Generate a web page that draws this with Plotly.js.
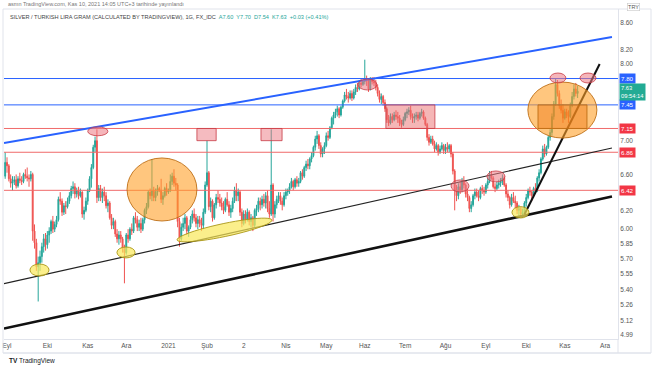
<!DOCTYPE html>
<html><head><meta charset="utf-8">
<script src="https://cdn.plot.ly/plotly-3.0.1.min.js"></script>
<style>html,body{margin:0;padding:0;background:#fff;}#chart{width:654px;height:366px;}</style>
</head><body><div id="chart"></div>
<script>
// ---- data (daily candles, SILVER/TRY gram) ----
const firstDay = '2020-08-31';
const openP = [
6.58,6.74,6.70,6.55,6.50,6.52,6.54,6.47,6.55,6.53,6.52,6.60,6.58,6.56,6.55,6.60,5.98,5.86,5.62,5.66,5.72,5.82,5.90,
5.84,5.94,5.98,6.08,6.00,6.05,6.10,6.32,6.30,6.18,6.25,6.24,6.30,6.36,6.44,6.46,6.38,6.42,6.36,6.40,6.16,6.20,
6.30,6.42,6.55,6.68,6.92,7.00,6.34,6.44,6.34,6.40,6.36,6.25,6.28,6.12,6.04,6.08,5.95,5.90,5.94,5.90,5.80,
5.76,5.94,5.90,6.00,5.98,6.12,6.10,6.02,6.06,6.00,6.10,6.20,6.24,6.40,6.36,6.42,6.34,6.40,6.44,6.42,6.32,6.36,6.44,
6.40,6.42,6.52,6.58,6.50,6.48,6.08,5.90,6.02,6.06,6.12,5.98,6.02,6.10,6.16,6.12,6.06,6.10,6.06,6.04,6.18,
6.48,6.62,6.24,6.30,6.12,6.26,6.34,6.32,6.28,6.24,6.20,6.32,6.26,6.18,6.22,6.30,6.42,6.36,6.40,6.18,
6.06,6.16,6.10,6.18,6.08,6.12,6.04,6.20,6.22,6.30,6.26,6.32,6.28,6.36,6.22,6.16,6.48,6.16,6.26,6.32,6.36,6.30,6.26,
6.36,6.40,6.42,6.46,6.52,6.46,6.54,6.50,6.52,6.62,6.58,6.68,6.72,6.70,6.78,6.82,6.92,7.02,7.06,6.94,6.84,6.90,
6.94,7.06,7.04,7.16,7.28,7.32,7.36,7.40,7.32,7.42,7.50,7.58,7.56,7.54,7.60,7.54,7.62,7.68,7.66,7.74,7.72,
7.76,7.80,7.78,7.66,7.78,7.76,7.74,7.68,7.60,7.52,7.56,7.48,7.40,7.26,7.22,7.30,7.26,7.32,7.30,7.28,7.22,7.20,
7.26,7.34,7.36,7.38,7.30,7.28,7.30,7.32,7.28,7.34,7.36,7.28,7.20,7.04,6.98,7.02,6.96,6.90,6.94,6.86,6.90,6.94,
6.88,6.92,6.90,6.94,6.84,6.64,6.42,6.36,6.46,6.42,6.52,6.48,6.38,6.34,6.22,6.26,6.36,6.40,6.36,6.34,6.44,6.42,
6.40,6.48,6.52,6.60,6.56,6.46,6.44,6.48,6.50,6.52,6.56,6.48,6.38,6.34,6.26,6.34,6.30,6.28,6.20,6.22,6.16,6.18,
6.28,6.34,6.42,6.40,6.36,6.44,6.42,6.56,6.62,6.78,6.90,6.84,6.92,7.04,7.10,7.30,7.46,7.72,7.60,7.44,7.38,
7.28,7.36,7.32,7.30,7.44,7.56,7.66,7.60];
const highP = [
6.86,6.80,6.72,6.60,6.58,6.58,6.60,6.58,6.62,6.58,6.62,6.66,6.68,6.60,6.64,6.62,6.05,5.90,5.72,5.78,5.86,5.95,5.96,
5.98,6.02,6.10,6.14,6.08,6.14,6.35,6.40,6.33,6.28,6.30,6.34,6.40,6.47,6.52,6.50,6.45,6.46,6.44,6.41,6.24,6.34,
6.44,6.58,6.72,6.95,7.05,7.14,6.48,6.48,6.44,6.46,6.40,6.32,6.30,6.16,6.12,6.10,6.00,5.98,5.98,5.92,5.84,
5.96,6.00,6.02,6.06,6.14,6.18,6.14,6.10,6.12,6.12,6.22,6.28,6.42,6.44,6.78,6.46,6.44,6.48,6.46,6.55,6.40,6.46,6.50,
6.44,6.60,6.62,6.66,6.56,6.50,6.12,6.06,6.12,6.16,6.14,6.04,6.14,6.20,6.22,6.16,6.14,6.14,6.12,6.22,6.52,
7.00,6.64,6.34,6.32,6.28,6.38,6.42,6.38,6.34,6.30,6.34,6.40,6.30,6.26,6.34,6.46,6.50,6.44,6.42,6.22,
6.20,6.20,6.22,6.20,6.16,6.14,6.22,6.26,6.34,6.34,6.36,6.38,6.40,6.42,6.30,7.14,6.50,6.30,6.36,6.40,6.40,6.34,6.40,
6.44,6.44,6.50,6.56,6.54,6.56,6.58,6.56,6.64,6.66,6.70,6.76,6.78,6.80,6.86,6.94,7.06,7.12,7.08,6.98,6.92,6.98,
7.10,7.12,7.18,7.30,7.36,7.40,7.44,7.42,7.44,7.52,7.62,7.66,7.62,7.64,7.64,7.66,7.72,7.74,7.78,7.80,7.78,
8.06,7.84,7.80,7.82,7.82,7.82,7.78,7.72,7.64,7.60,7.58,7.52,7.42,7.32,7.34,7.34,7.36,7.38,7.36,7.32,7.26,7.30,
7.36,7.40,7.42,7.44,7.34,7.34,7.36,7.36,7.36,7.40,7.38,7.30,7.22,7.08,7.06,7.06,7.00,6.98,6.96,6.94,6.98,6.96,
6.96,6.98,6.96,6.96,6.86,6.66,6.48,6.50,6.52,6.56,6.58,6.50,6.44,6.36,6.30,6.38,6.44,6.44,6.42,6.46,6.48,6.46,
6.50,6.56,6.64,6.64,6.58,6.50,6.52,6.54,6.56,6.60,6.58,6.50,6.42,6.36,6.38,6.40,6.36,6.30,6.26,6.24,6.22,6.30,
6.38,6.44,6.46,6.42,6.46,6.50,6.58,6.66,6.80,6.94,6.96,6.94,7.06,7.14,7.34,7.50,7.80,7.78,7.64,7.52,7.46,
7.40,7.40,7.38,7.48,7.62,7.72,7.74,7.70];
const lowP = [
6.55,6.62,6.52,6.45,6.42,6.48,6.44,6.45,6.50,6.48,6.50,6.55,6.52,6.46,6.52,5.88,5.80,5.58,5.29,5.58,5.66,5.76,5.78,
5.80,5.86,5.95,5.96,5.97,6.02,6.08,6.26,6.14,6.15,6.16,6.22,6.27,6.33,6.38,6.33,6.34,6.32,6.34,6.12,6.10,6.18,
6.26,6.40,6.45,6.66,6.86,6.28,6.30,6.30,6.28,6.30,6.22,6.18,6.10,6.00,6.00,5.92,5.86,5.84,5.86,5.76,5.46,
5.74,5.86,5.88,5.94,5.96,6.06,5.98,5.98,5.96,5.98,6.06,6.16,6.22,6.32,6.30,6.30,6.30,6.36,6.40,6.28,6.26,6.34,6.36,
6.38,6.40,6.48,6.46,6.42,6.02,5.82,5.88,5.98,6.00,5.94,5.92,6.00,6.06,6.08,6.02,6.00,6.02,5.98,6.00,6.16,
6.46,6.20,6.18,6.08,6.10,6.22,6.28,6.24,6.20,6.16,6.18,6.24,6.14,6.12,6.18,6.28,6.30,6.30,6.14,6.02,
6.04,6.06,6.08,6.04,6.02,5.98,6.02,6.14,6.18,6.20,6.22,6.24,6.22,6.18,6.12,6.14,6.08,6.12,6.22,6.28,6.26,6.20,6.24,
6.32,6.36,6.38,6.44,6.42,6.44,6.46,6.46,6.50,6.54,6.56,6.64,6.66,6.66,6.74,6.80,6.88,6.96,6.90,6.80,6.80,6.84,
6.92,7.00,7.02,7.14,7.20,7.28,7.30,7.28,7.30,7.40,7.48,7.52,7.48,7.52,7.50,7.52,7.58,7.62,7.64,7.68,7.70,
7.72,7.70,7.62,7.64,7.72,7.70,7.64,7.56,7.48,7.46,7.44,7.36,7.22,7.18,7.20,7.22,7.24,7.26,7.22,7.18,7.16,7.18,
7.24,7.28,7.32,7.26,7.22,7.22,7.26,7.24,7.26,7.30,7.26,7.18,7.00,6.94,6.96,6.94,6.86,6.88,6.82,6.84,6.88,6.84,
6.84,6.86,6.86,6.80,6.60,6.20,6.30,6.32,6.38,6.40,6.44,6.34,6.30,6.18,6.18,6.24,6.32,6.34,6.30,6.32,6.38,6.36,
6.38,6.44,6.50,6.54,6.44,6.40,6.42,6.44,6.46,6.48,6.46,6.34,6.30,6.22,6.24,6.28,6.22,6.16,6.14,6.12,6.12,6.16,
6.24,6.32,6.36,6.30,6.34,6.38,6.40,6.52,6.60,6.76,6.80,6.82,6.90,7.00,7.06,7.26,7.44,7.56,7.40,7.34,7.22,
7.26,7.28,7.22,7.28,7.42,7.52,7.56,7.54];
const closeP = [
6.74,6.70,6.55,6.50,6.52,6.54,6.47,6.55,6.53,6.52,6.60,6.58,6.56,6.55,6.60,5.98,5.86,5.62,5.66,5.72,5.82,5.90,5.84,
5.94,5.98,6.08,6.00,6.05,6.10,6.32,6.30,6.18,6.25,6.24,6.30,6.36,6.44,6.46,6.38,6.42,6.36,6.40,6.16,6.20,6.30,
6.42,6.55,6.68,6.92,7.00,6.34,6.44,6.34,6.40,6.36,6.25,6.28,6.12,6.04,6.08,5.95,5.90,5.94,5.90,5.80,5.76,
5.94,5.90,6.00,5.98,6.12,6.10,6.02,6.06,6.00,6.10,6.20,6.24,6.40,6.36,6.42,6.34,6.40,6.44,6.42,6.32,6.36,6.44,6.40,
6.42,6.52,6.58,6.50,6.48,6.08,5.90,6.02,6.06,6.12,5.98,6.02,6.10,6.16,6.12,6.06,6.10,6.06,6.04,6.18,6.48,
6.62,6.24,6.30,6.12,6.26,6.34,6.32,6.28,6.24,6.20,6.32,6.26,6.18,6.22,6.30,6.42,6.36,6.40,6.18,6.06,
6.16,6.10,6.18,6.08,6.12,6.04,6.20,6.22,6.30,6.26,6.32,6.28,6.36,6.22,6.16,6.48,6.16,6.26,6.32,6.36,6.30,6.26,6.36,
6.40,6.42,6.46,6.52,6.46,6.54,6.50,6.52,6.62,6.58,6.68,6.72,6.70,6.78,6.82,6.92,7.02,7.06,6.94,6.84,6.90,6.94,
7.06,7.04,7.16,7.28,7.32,7.36,7.40,7.32,7.42,7.50,7.58,7.56,7.54,7.60,7.54,7.62,7.68,7.66,7.74,7.72,7.76,
7.80,7.78,7.66,7.78,7.76,7.74,7.68,7.60,7.52,7.56,7.48,7.40,7.26,7.22,7.30,7.26,7.32,7.30,7.28,7.22,7.20,7.26,
7.34,7.36,7.38,7.30,7.28,7.30,7.32,7.28,7.34,7.36,7.28,7.20,7.04,6.98,7.02,6.96,6.90,6.94,6.86,6.90,6.94,6.88,
6.92,6.90,6.94,6.84,6.64,6.42,6.36,6.46,6.42,6.52,6.48,6.38,6.34,6.22,6.26,6.36,6.40,6.36,6.34,6.44,6.42,6.40,
6.48,6.52,6.60,6.56,6.46,6.44,6.48,6.50,6.52,6.56,6.48,6.38,6.34,6.26,6.34,6.30,6.28,6.20,6.22,6.16,6.18,6.28,
6.34,6.42,6.40,6.36,6.44,6.42,6.56,6.62,6.78,6.90,6.84,6.92,7.04,7.10,7.30,7.46,7.72,7.60,7.44,7.38,7.28,
7.36,7.32,7.30,7.44,7.56,7.66,7.60,7.63];

// axis ticks
const monthTickDates = ['2020-09-01','2020-10-01','2020-11-02','2020-12-01','2021-01-01','2021-02-01','2021-03-01','2021-04-01','2021-05-03','2021-06-01','2021-07-01','2021-08-02','2021-09-01','2021-10-01','2021-11-01','2021-12-01'];
const monthTickText = ['Eyl','Eki','Kas','Ara','2021','Şub','2','Nis','May','Haz','Tem','Ağu','Eyl','Eki','Kas','Ara'];
const priceTicks = [4.99,5.12,5.26,5.40,5.55,5.70,5.85,6.00,6.20,6.60,7.00,8.00,8.20,8.60];

// drawn levels
const blueLevels = [7.80, 7.45];
const redLevels = [7.15, 6.86, 6.42];
const lastPrice = 7.63;
const lastTime = '09:54:14';
// drawn trend lines: [date0, price0, date1, price1]
const blueTrend = ['2020-08-28 09:00', 6.97, '2021-12-06 17:00', 8.384];
const thinTrend = ['2020-08-28 09:00', 5.457, '2021-12-06 17:00', 6.911];
const thickTrend = ['2020-08-28 09:00', 5.046, '2021-12-06 17:00', 6.351];
const steepTrend = ['2021-09-30', 6.155, '2021-11-26', 8.00];

const xRange = ['2020-08-28 08:46', '2021-12-10 00:00'];

function tradingDays(start, n) {
  const out = []; const d = new Date(start + 'T00:00:00Z');
  while (out.length < n) {
    const wd = d.getUTCDay();
    if (wd !== 0 && wd !== 6) out.push(d.toISOString().slice(0, 10));
    d.setUTCDate(d.getUTCDate() + 1);
  }
  return out;
}
const dates = tradingDays(firstDay, closeP.length);

const GREEN = '#26a69a', RED = '#ef5350', BLUE = '#2962ff', LRED = '#f23645';
const traces = [];
traces.push({
  type: 'candlestick', x: dates, open: openP, high: highP, low: lowP, close: closeP,
  increasing: {line: {color: GREEN, width: 1}, fillcolor: GREEN},
  decreasing: {line: {color: RED, width: 1}, fillcolor: RED},
  whiskerwidth: 0, hoverinfo: 'skip'
});
function seg(t, color, width) {
  traces.push({type: 'scatter', mode: 'lines', x: [t[0], t[2]], y: [t[1], t[3]],
    line: {color: color, width: width}, hoverinfo: 'skip'});
}
blueLevels.forEach(v => seg([xRange[0], v, xRange[1], v], BLUE, 1));
redLevels.forEach(v => seg([xRange[0], v, xRange[1], v], '#f06a6a', 1));
seg(blueTrend, BLUE, 2);
seg(thinTrend, '#222', 1.2);
seg(thickTrend, '#111', 2.6);
seg(steepTrend, '#111', 2);

// highlight drawings
const pinkFill = 'rgba(236,120,130,0.55)', pinkLine = 'rgba(200,60,70,0.8)';
const orangeFill = 'rgba(255,160,40,0.6)', orangeLine = 'rgba(190,110,20,0.9)';
const yellowFill = 'rgba(250,232,90,0.7)', yellowLine = 'rgba(170,150,20,0.9)';
function sh(type, x0, x1, y0, y1, fill, line) {
  return {type: type, xref: 'x', yref: 'y', x0: x0, x1: x1, y0: y0, y1: y1,
    fillcolor: fill, line: {color: line, width: 1}, layer: 'above'};
}
const shapes = [
  sh('circle', '2020-11-02', '2020-11-17', 7.06, 7.17, pinkFill, pinkLine),
  sh('rect', '2021-01-22 12:00', '2021-02-08', 7.00, 7.15, 'rgba(236,120,130,0.5)', pinkLine),
  sh('rect', '2021-03-12 10:00', '2021-03-29 22:00', 7.00, 7.15, 'rgba(236,120,130,0.5)', pinkLine),
  sh('circle', '2020-12-01 10:00', '2021-01-22 12:00', 6.086, 6.792, orangeFill, orangeLine),
  sh('circle', '2020-09-17 12:00', '2020-10-01 22:00', 5.530, 5.647, yellowFill, yellowLine),
  sh('circle', '2020-11-23 22:00', '2020-12-07 19:00', 5.707, 5.817, yellowFill, yellowLine),
  sh('rect', '2021-06-16 12:00', '2021-07-23 05:00', 7.15, 7.45, 'rgba(236,110,110,0.5)', pinkLine),
  sh('circle', '2021-05-26 07:00', '2021-06-09 14:00', 7.646, 7.793, pinkFill, pinkLine),
  sh('circle', '2021-08-05', '2021-08-18 19:00', 6.401, 6.537, pinkFill, pinkLine),
  sh('circle', '2021-09-01 14:00', '2021-09-15 10:00', 6.514, 6.640, pinkFill, pinkLine),
  sh('circle', '2021-09-21 05:00', '2021-10-04 12:00', 6.118, 6.24, yellowFill, yellowLine),
  sh('circle', '2021-10-01 21:00', '2021-11-24 12:00', 7.032, 7.752, orangeFill, orangeLine),
  sh('rect', '2021-10-11 10:00', '2021-11-17 02:00', 7.15, 7.45, 'rgba(240,120,20,0.45)', orangeLine),
  sh('circle', '2021-10-19 22:00', '2021-11-01 14:00', 7.740, 7.875, pinkFill, pinkLine),
  sh('circle', '2021-11-11 07:00', '2021-11-24', 7.740, 7.875, pinkFill, pinkLine)
];
// slanted yellow ellipse (paper coords, plot box 4..618 x 9..339 px)
(function () {
  const cx = 224.5, cy = 230, a = 48.5, b = 6.5, th = Math.atan2(-20, 95);
  let p = '';
  for (let i = 0; i <= 48; i++) {
    const t = i / 48 * 2 * Math.PI;
    const X = cx + a * Math.cos(th) * Math.cos(t) - b * Math.sin(th) * Math.sin(t);
    const Y = cy + a * Math.sin(th) * Math.cos(t) + b * Math.cos(th) * Math.sin(t);
    p += (i ? ' L' : 'M') + ((X - 4) / 614).toFixed(4) + ',' + ((339 - Y) / 330).toFixed(4);
  }
  shapes.push({type: 'path', xref: 'paper', yref: 'paper', path: p + ' Z',
    fillcolor: yellowFill, line: {color: yellowLine, width: 1}, layer: 'above'});
})();
// frame / separators
shapes.push({type: 'line', xref: 'paper', yref: 'paper', x0: 1, x1: 1, y0: 0, y1: -14 / 330, line: {color: '#e0e3eb', width: 1}});
shapes.push({type: 'line', xref: 'paper', yref: 'paper', x0: -1 / 614, x1: 647 / 614, y0: -14 / 330, y1: -14 / 330, line: {color: '#e0e3eb', width: 1}});
shapes.push({type: 'rect', xref: 'paper', yref: 'paper', x0: -1 / 614, x1: 647 / 614, y0: -14 / 330, y1: 1, line: {color: '#e0e3eb', width: 1}});

const ann = [];
function lvlLabel(v, txt, bg) {
  ann.push({xref: 'paper', yref: 'y', x: 1, y: Math.log10(v), xanchor: 'left', yanchor: 'middle', xshift: 1,
    text: txt, showarrow: false, bgcolor: bg, font: {color: '#fff', size: 6.2, family: 'Liberation Sans, Arial'}, borderpad: 1});
}
blueLevels.forEach(v => lvlLabel(v, v.toFixed(2), BLUE));
redLevels.forEach(v => lvlLabel(v, v.toFixed(2), LRED));
ann.push({xref: 'paper', yref: 'y', x: 1, y: Math.log10(lastPrice), xanchor: 'left', yanchor: 'top', xshift: 1, yshift: 8,
  text: lastPrice.toFixed(2) + '<br>' + lastTime, align: 'left', showarrow: false, bgcolor: '#22ab94',
  font: {color: '#fff', size: 5.8, family: 'Liberation Sans, Arial'}, borderpad: 1});
ann.push({xref: 'paper', yref: 'paper', x: 1, y: 1, xanchor: 'left', yanchor: 'top', xshift: 9, yshift: 6,
  text: 'TRY', showarrow: false, bgcolor: '#fff', bordercolor: '#c8c8c8', borderwidth: 0.6, borderpad: 0.5,
  font: {color: '#555', size: 5.5, family: 'Liberation Sans, Arial'}});
ann.push({xref: 'paper', yref: 'paper', x: 0, y: 1, xanchor: 'left', yanchor: 'middle', xshift: 2, yshift: 5,
  text: 'asmn TradingView.com, Kas 10, 2021 14:05 UTC+3 tarihinde yayınlandı', showarrow: false,
  font: {color: '#777', size: 5.5, family: 'Liberation Sans, Arial'}});
ann.push({xref: 'paper', yref: 'paper', x: 0, y: 1, xanchor: 'left', yanchor: 'middle', xshift: 4, yshift: -8,
  text: 'SILVER / TURKISH LIRA GRAM (CALCULATED BY TRADINGVIEW), 1G, FX_IDC  <span style="color:#26a69a">A7.60  Y7.70  D7.54  K7.63  +0.03 (+0.41%)</span>',
  showarrow: false, font: {color: '#444', size: 5.6, family: 'Liberation Sans, Arial'}});
ann.push({xref: 'paper', yref: 'paper', x: 0, y: 0, xanchor: 'left', yanchor: 'middle', xshift: 3, yshift: -22,
  text: '<b>TV</b> TradingView', showarrow: false, font: {color: '#131722', size: 6.5, family: 'Liberation Sans, Arial'}});

const layout = {
  width: 654, height: 366,
  margin: {l: 4, r: 36, t: 9, b: 27, pad: 0},
  paper_bgcolor: '#fff', plot_bgcolor: '#fff',
  showlegend: false, hovermode: false,
  font: {family: 'Liberation Sans, Arial, sans-serif', size: 6.5, color: '#555'},
  xaxis: {type: 'date', range: xRange, rangebreaks: [{bounds: ['sat', 'mon']}],
    rangeslider: {visible: false}, tickmode: 'array', tickvals: monthTickDates, ticktext: monthTickText,
    showgrid: false, zeroline: false, showline: true, linecolor: '#e0e3eb', ticks: '',
    tickfont: {size: 6.5, color: '#555'}, fixedrange: true},
  yaxis: {type: 'log', side: 'right', range: [0.69508, 0.94468], tickmode: 'array',
    tickvals: priceTicks, ticktext: priceTicks.map(v => v.toFixed(2)),
    showgrid: false, zeroline: false, showline: true, linecolor: '#e0e3eb', ticks: '',
    tickfont: {size: 6.5, color: '#555'}, fixedrange: true},
  shapes: shapes, annotations: ann
};
Plotly.newPlot('chart', traces, layout, {staticPlot: true, displayModeBar: false});
</script>
</body></html>
